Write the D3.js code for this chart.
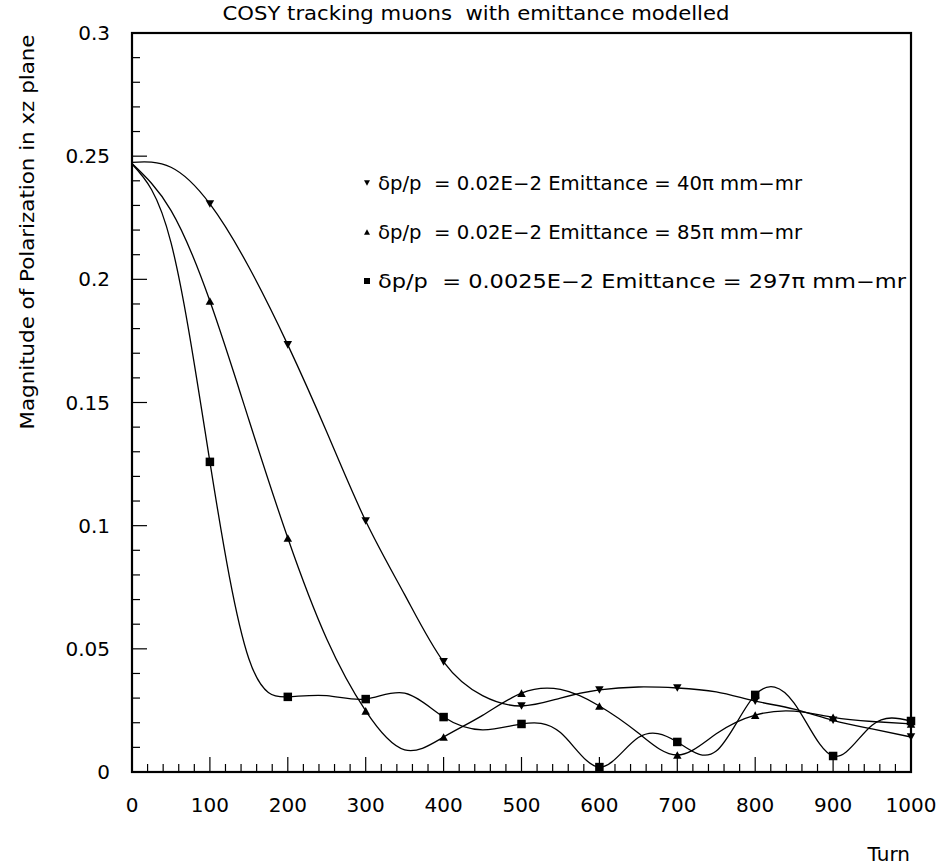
<!DOCTYPE html>
<html>
<head>
<meta charset="utf-8">
<script src="https://cdn.jsdelivr.net/npm/d3@7"></script>
<style>
  body { margin: 0; background: #fff; }
  text { font-family: "DejaVu Sans", sans-serif; fill: #000; white-space: pre; }
</style>
</head>
<body>
<svg id="chart" width="942" height="867"></svg>
<script>
var width = 942
var height = 867

// turns (markers sit on every 100th turn)
const turns = [0, 50, 100, 150, 200, 250, 300, 350, 400, 450, 500, 550, 600, 650, 700, 750, 800, 850, 900, 950, 1000];
// magnitude of polarization, one array per emittance
const pol40  = [0.2475, 0.2455, 0.2306, 0.2050, 0.1734, 0.1380, 0.1019, 0.0720, 0.0447, 0.0310, 0.0268,
                0.0300, 0.0333, 0.0345, 0.0341, 0.0325, 0.0288, 0.0255, 0.0210, 0.0175, 0.0142];
const pol85  = [0.2470, 0.2280, 0.1912, 0.1430, 0.0950, 0.0540, 0.0248, 0.0090, 0.0142, 0.0230, 0.0320,
                0.0335, 0.0268, 0.0158, 0.0069, 0.0155, 0.0231, 0.0247, 0.0222, 0.0205, 0.0195];
const pol297 = [0.2468, 0.2150, 0.1259, 0.0460, 0.0305, 0.0310, 0.0296, 0.0320, 0.0223, 0.0171, 0.0195,
                0.0160, 0.0020, 0.0140, 0.0122, 0.0085, 0.0313, 0.0280, 0.0065, 0.0190, 0.0207];

const legendLabels = [
  "\u03b4p/p  = 0.02E\u22122 Emittance = 40\u03c0 mm\u2212mr",
  "\u03b4p/p  = 0.02E\u22122 Emittance = 85\u03c0 mm\u2212mr",
  "\u03b4p/p  = 0.0025E\u22122 Emittance = 297\u03c0 mm\u2212mr"
];
const markerTypes = ["down", "up", "square"];

const xMajor = d3.range(0, 1001, 100);
const xMinor = d3.range(0, 1001, 20);
const yMajor = [0, 0.05, 0.1, 0.15, 0.2, 0.25, 0.3];
const yMinor = d3.range(0, 0.3001, 0.01);

const margin = {left: 132, right: 31, top: 33, bottom: 95};

const x = d3.scaleLinear().domain([0, 1000]).range([margin.left, width - margin.right]);
const y = d3.scaleLinear().domain([0, 0.3]).range([height - margin.bottom, margin.top]);

const svg = d3.select("svg#chart");

// ticks on the bottom
svg.append("g")
    .attr("stroke", "#000")
    .attr("stroke-width", 1.2)
  .selectAll("line")
  .data(xMinor)
  .enter().append("line")
    .attr("x1", d => x(d))
    .attr("x2", d => x(d))
    .attr("y1", y(0))
    .attr("y2", d => y(0) - (d % 100 === 0 ? 15 : 8));

// ticks on the left
svg.append("g")
    .attr("stroke", "#000")
    .attr("stroke-width", 1.2)
  .selectAll("line")
  .data(yMinor)
  .enter().append("line")
    .attr("y1", d => y(d))
    .attr("y2", d => y(d))
    .attr("x1", x(0))
    .attr("x2", (d, i) => x(0) + (i % 5 === 0 ? 15 : 8));

svg.append("g")
  .selectAll("text")
  .data(xMajor)
  .enter().append("text")
    .attr("x", d => x(d))
    .attr("y", y(0) + 40)
    .attr("text-anchor", "middle")
    .attr("font-size", 20)
    .text(d => d);

svg.append("g")
  .selectAll("text")
  .data(yMajor)
  .enter().append("text")
    .attr("x", x(0) - 22)
    .attr("y", d => y(d) + 7)
    .attr("text-anchor", "end")
    .attr("font-size", 20)
    .text(d => d);

// frame
svg.append("rect")
    .attr("x", x(0))
    .attr("y", y(0.3))
    .attr("width", x(1000) - x(0))
    .attr("height", y(0) - y(0.3))
    .attr("fill", "none")
    .attr("stroke", "#000")
    .attr("stroke-width", 2.2);

const series = [pol40, pol85, pol297];

const line = d3.line()
    .x(d => x(d[0]))
    .y(d => y(d[1]))
    .curve(d3.curveNatural);

svg.append("g")
    .attr("fill", "none")
    .attr("stroke", "#000")
    .attr("stroke-width", 1.3)
  .selectAll("path")
  .data(series)
  .enter().append("path")
    .attr("d", s => line(turns.map((t, i) => [t, s[i]])));

function marker(sel, type, size) {
  if (type === "square") {
    sel.append("rect")
        .attr("x", -size / 2).attr("y", -size / 2)
        .attr("width", size).attr("height", size);
  } else {
    const h = size * 0.9;
    const s = type === "up" ? -1 : 1;
    sel.append("path")
        .attr("d", `M${-size / 2},${-s * h / 2}L${size / 2},${-s * h / 2}L0,${s * h / 2}Z`);
  }
}

series.forEach((s, k) => {
  const g = svg.append("g").attr("fill", "#000");
  turns.forEach((t, i) => {
    if (t === 0 || t % 100 !== 0) return;
    const m = g.append("g").attr("transform", `translate(${x(t)},${y(s[i])})`);
    marker(m, markerTypes[k], 8.5);
  });
});

// legend
const legendWidths = [424, 424, 528];
const legend = svg.append("g");
legendLabels.forEach((lab, k) => {
  const row = legend.append("g").attr("transform", `translate(367,${183 + k * 49})`);
  marker(row.append("g").attr("fill", "#000"), markerTypes[k], 6);
  row.append("text")
      .attr("x", 11)
      .attr("y", 7)
      .attr("font-size", 19)
      .attr("textLength", legendWidths[k])
      .attr("lengthAdjust", "spacingAndGlyphs")
      .text(lab);
});

svg.append("text")
    .attr("x", 476)
    .attr("y", 20)
    .attr("text-anchor", "middle")
    .attr("font-size", 19)
    .attr("textLength", 507)
    .attr("lengthAdjust", "spacingAndGlyphs")
    .text("COSY tracking muons  with emittance modelled");

svg.append("text")
    .attr("transform", `translate(34,232) rotate(-90)`)
    .attr("text-anchor", "middle")
    .attr("font-size", 19)
    .attr("textLength", 395)
    .attr("lengthAdjust", "spacingAndGlyphs")
    .text("Magnitude of Polarization in xz plane");

svg.append("text")
    .attr("x", 910)
    .attr("y", 861)
    .attr("text-anchor", "end")
    .attr("font-size", 20)
    .text("Turn");
</script>
</body>
</html>
